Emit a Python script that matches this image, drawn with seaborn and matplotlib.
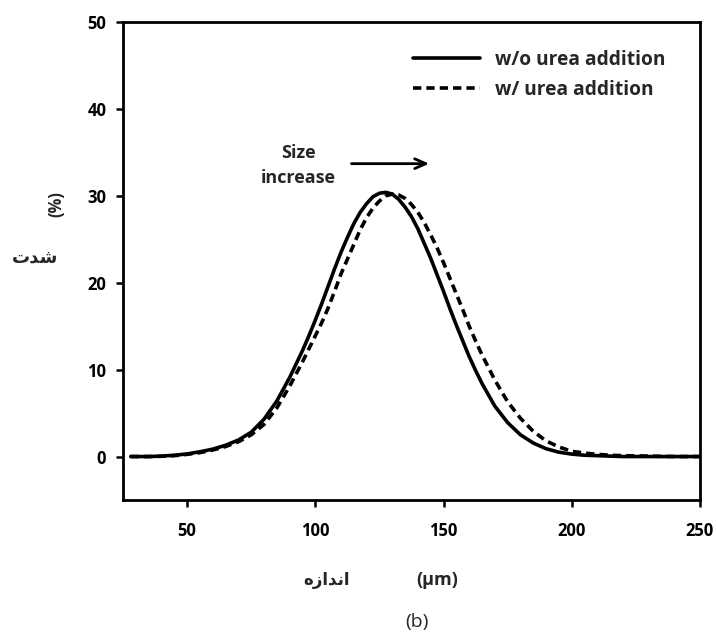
import matplotlib
matplotlib.use("Agg")
import matplotlib.pyplot as plt
import seaborn as sns
import pandas as pd

# ---- data ----
size_um = [28, 35, 40, 45, 50, 55, 60, 65, 70, 75, 80, 85, 90, 95,
           97.5, 100, 102.5, 105, 107.5, 110, 112.5, 115, 117.5, 120,
           122.5, 125, 127.5, 130, 132.5, 135, 137.5, 140, 142.5, 145,
           147.5, 150, 152.5, 155, 157.5, 160, 162.5, 165,
           170, 175, 180, 185, 190, 195, 200, 205, 210, 215, 220, 230, 240, 250]
without_urea = [0.0, 0.0, 0.05, 0.15, 0.3, 0.55, 0.85, 1.3, 1.9, 2.8, 4.3, 6.4, 9.1, 12.2,
                13.9, 15.7, 17.6, 19.6, 21.6, 23.5, 25.2, 26.8, 28.1, 29.1,
                29.9, 30.3, 30.4, 30.2, 29.6, 28.7, 27.6, 26.2, 24.5, 22.8,
                20.9, 19.0, 17.0, 15.1, 13.3, 11.5, 9.9, 8.4,
                5.8, 3.9, 2.5, 1.55, 0.9, 0.5, 0.28, 0.15, 0.1, 0.05, 0.0, 0.0, 0.0, 0.0]
with_urea = [0.0, 0.0, 0.03, 0.1, 0.25, 0.45, 0.75, 1.15, 1.7, 2.5, 3.7, 5.6, 8.1, 10.9,
             12.4, 13.9, 15.4, 17.1, 19.0, 21.0, 22.7, 24.4, 26.1, 27.5,
             28.6, 29.4, 30.0, 30.2, 30.1, 29.7, 29.0, 28.1, 26.9, 25.5,
             24.0, 22.3, 20.5, 18.7, 16.9, 15.0, 13.3, 11.7,
             8.8, 6.3, 4.4, 2.9, 1.8, 1.1, 0.6, 0.4, 0.25, 0.15, 0.1, 0.05, 0.0, 0.0]
series_names = ["w/o urea addition", "w/ urea addition"]
x_ticks = [50, 100, 150, 200, 250]
y_ticks = [0, 10, 20, 30, 40, 50]

# Persian labels (Arabic presentation forms in visual order so they render joined)
ylabel_fa = "\uFE95\uFEAA\uFEB7"                          # شدت
xlabel_fa = "\uFEE9\uFEAF\uFE8D\uFEAA\uFEE7\uFE8D"        # اندازه

df = pd.DataFrame({
    "size": size_um * 2,
    "value": without_urea + with_urea,
    "series": [series_names[0]] * len(size_um) + [series_names[1]] * len(size_um),
})

sns.set_style("ticks")
plt.rcParams["font.family"] = ["Open Sans", "DejaVu Sans"]
plt.rcParams["font.weight"] = "bold"

W, H = 716, 636
fig = plt.figure(figsize=(W / 100, H / 100), dpi=100)
ax = fig.add_axes([123 / W, 1 - 500 / H, (700 - 123) / W, (500 - 22) / H])

sns.lineplot(data=df, x="size", y="value", hue="series", style="series",
             palette=["black", "black"],
             dashes={series_names[0]: "", series_names[1]: (2.3, 1.4)},
             linewidth=2.6, ax=ax, legend=True)

ax.set_xlim(25, 250)
ax.set_ylim(-5, 50)
ax.set_xticks(x_ticks)
ax.set_yticks(y_ticks)
ax.set_xlabel("")
ax.set_ylabel("")
for s in ax.spines.values():
    s.set_visible(True)
    s.set_linewidth(2.0)
    s.set_color("black")
ax.tick_params(axis="both", direction="out", length=5, width=1.8, colors="black",
               labelsize=12, top=False, right=False)
ax.tick_params(axis="x", pad=10.5)
ax.tick_params(axis="y", pad=7)
for lab in ax.get_xticklabels() + ax.get_yticklabels():
    lab.set_fontweight("bold")

leg = ax.legend(loc="upper left", bbox_to_anchor=((413 - 123) / 577, (500 - 50) / 478),
                frameon=False, borderaxespad=0, borderpad=0, handlelength=3.5,
                handletextpad=0.8, labelspacing=0.5,
                prop={"family": "Open Sans", "weight": "bold", "size": 13.8})
for line in leg.get_lines():
    line.set_linewidth(2.6)

# annotation
ax.annotate("", xy=(145.5, 33.7), xytext=(113, 33.7),
            arrowprops=dict(arrowstyle="->,head_length=0.8,head_width=0.35",
                            lw=2.0, color="black"))
ax.text(93.5, 33.5, "Size\nincrease", ha="center", va="center", fontsize=13,
        fontweight="bold", linespacing=1.45)

# axis labels as figure text
fig.text(35 / W, 1 - 258 / H, ylabel_fa, ha="center", va="center", fontsize=13,
         fontweight="bold", family=["DejaVu Sans"])
fig.text(56 / W, 1 - 204 / H, "(%)", ha="center", va="center", rotation=90,
         fontsize=12, fontweight="bold")
fig.text(327 / W, 1 - 580 / H, xlabel_fa, ha="center", va="center", fontsize=12,
         fontweight="bold", family=["DejaVu Sans"])
fig.text(437 / W, 1 - 580 / H, "(\u03bcm)", ha="center", va="center", fontsize=13,
         fontweight="bold")
fig.text(417 / W, 1 - 622 / H, "(b)", ha="center", va="center", fontsize=14,
         fontweight="normal")

fig.savefig("out.png", dpi=100)
